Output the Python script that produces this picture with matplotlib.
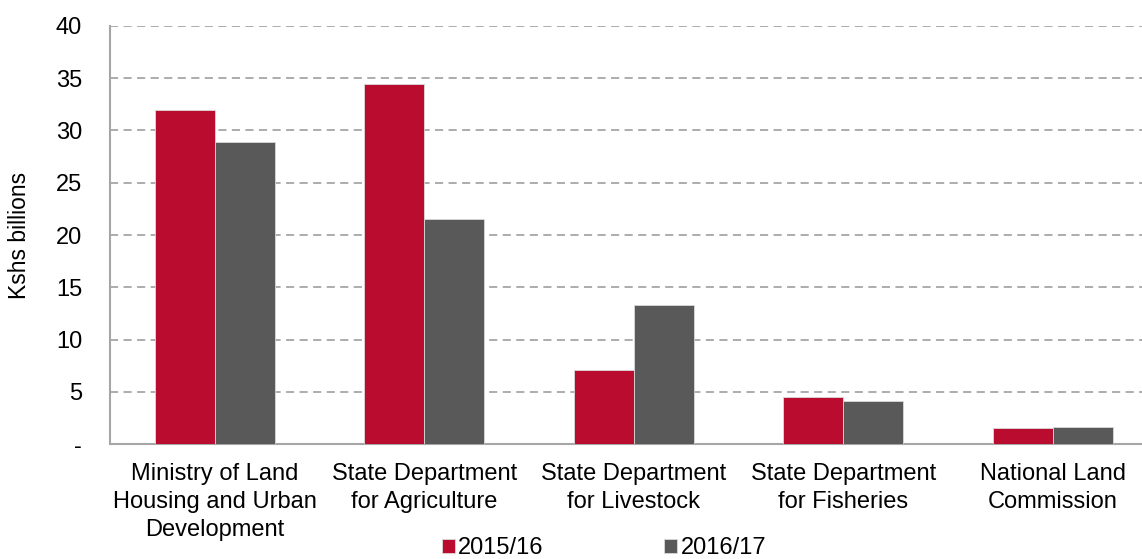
import matplotlib
matplotlib.use("Agg")
import matplotlib.pyplot as plt
import numpy as np

categories = ["Ministry of Land\nHousing and Urban\nDevelopment",
              "State Department\nfor Agriculture",
              "State Department\nfor Livestock",
              "State Department\nfor Fisheries",
              "National Land\nCommission"]
series_names = ["2015/16", "2016/17"]
values_2015 = [32.0, 34.45, 7.1, 4.45, 1.5]
values_2016 = [28.9, 21.55, 13.3, 4.15, 1.6]
yticks = [0, 5, 10, 15, 20, 25, 30, 35, 40]
yticklabels = ["-", "5", "10", "15", "20", "25", "30", "35", "40"]

plt.rcParams['font.family'] = ['Liberation Sans', 'DejaVu Sans']
fig = plt.figure(figsize=(11.42, 5.59), dpi=100)
ax = fig.add_axes([110/1142, 115/559, 1047.5/1142, 418/559])

x = np.arange(len(categories))
w = 0.286
red = "#BA0C2F"
gray = "#595959"
b1 = ax.bar(x - w/2, values_2015, w, color=red, edgecolor="#d9d9d9", linewidth=0.6, label=series_names[0], zorder=3)
b2 = ax.bar(x + w/2, values_2016, w, color=gray, edgecolor="#d9d9d9", linewidth=0.6, label=series_names[1], zorder=3)

ax.set_xlim(-0.5, len(categories) - 0.5)
ax.set_ylim(0, 40)
ax.set_yticks(yticks)
ax.set_yticklabels(yticklabels)
ax.set_xticks(x)
ax.set_xticklabels(categories, linespacing=1.34)
ax.tick_params(axis='both', length=0, labelsize=17, colors='black')
ax.tick_params(axis='x', pad=14)
ax.tick_params(axis='y', pad=20)

ax.grid(axis='y', color='#a6a6a6', linestyle=(0, (4.5, 3)), linewidth=1.3, zorder=0)
for s in ['top', 'right']:
    ax.spines[s].set_visible(False)
for s in ['left', 'bottom']:
    ax.spines[s].set_color('#a6a6a6')
    ax.spines[s].set_linewidth(1.5)

ax.set_ylabel("Kshs billions", fontsize=16.5)
ax.yaxis.set_label_coords(-0.075, 0.5)

fig.legend(handles=[b1, b2], labels=series_names, loc='center',
           bbox_to_anchor=(604/1142, 11/559), ncol=2, frameon=False,
           fontsize=17, handlelength=0.55, handleheight=0.55,
           handletextpad=0.15, columnspacing=5.1)

fig.savefig("out.png", dpi=100)
